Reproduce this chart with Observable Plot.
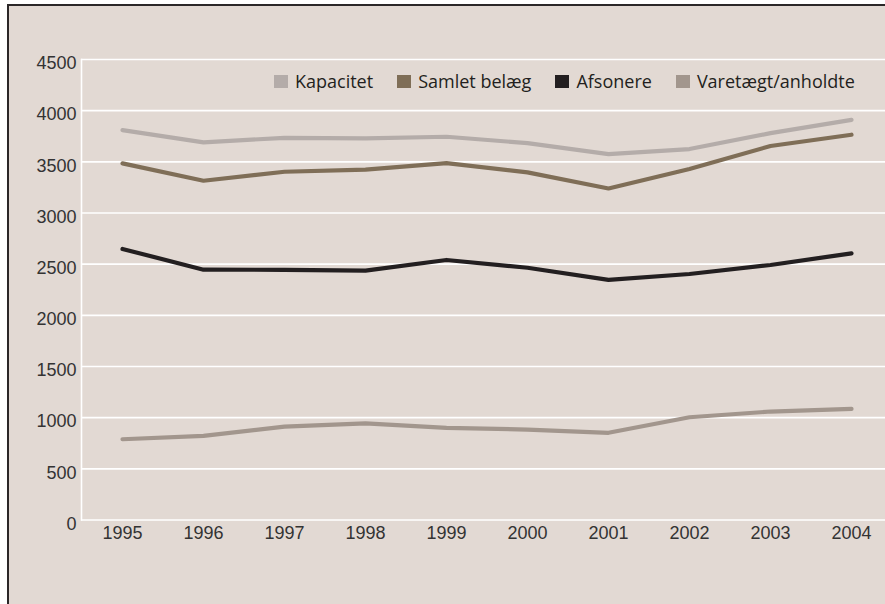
<!DOCTYPE html>
<html>
<head>
<meta charset="utf-8">
<script src="https://cdn.jsdelivr.net/npm/d3@7"></script>
<script src="https://cdn.jsdelivr.net/npm/@observablehq/plot@0.6"></script>
<style>
  html, body { margin: 0; padding: 0; background: #ffffff; }
  #wrap { position: relative; width: 885px; height: 604px; overflow: hidden; background: #ffffff; }
  #panel { position: absolute; left: 7px; top: 4px; right: -4px; bottom: -4px;
           background: #e2d9d3; border-left: 2px solid #2b2728; border-top: 2px solid #2b2728; }
  #chart { position: absolute; left: 0; top: 0; }
  #legend { position: absolute; left: 274px; top: 68px; display: flex; align-items: center;
            gap: 24px; font-family: "Open Sans", sans-serif; font-size: 18px; color: #231f20; height: 26px; }
  .item { display: flex; align-items: center; gap: 7px; white-space: nowrap; }
  .sw { width: 14px; height: 13px; display: inline-block; }
</style>
</head>
<body>
<div id="wrap">
  <div id="panel"></div>
  <div id="chart"></div>
  <div id="legend"></div>
</div>
<script>
const years = [1995, 1996, 1997, 1998, 1999, 2000, 2001, 2002, 2003, 2004];
const seriesNames = ["Kapacitet", "Samlet belæg", "Afsonere", "Varetægt/anholdte"];
const seriesColors = ["#b4aca9", "#7f6e57", "#231f20", "#a2968d"];
const kapacitet   = [3810, 3690, 3735, 3730, 3745, 3683, 3575, 3625, 3780, 3910];
const samletBelaeg = [3485, 3315, 3403, 3423, 3487, 3397, 3240, 3430, 3655, 3765];
const afsonere    = [2649, 2446, 2445, 2437, 2541, 2465, 2346, 2404, 2492, 2606];
const varetaegt   = [789, 822, 913, 945, 900, 884, 852, 1004, 1060, 1086];
const yTicks = [0, 500, 1000, 1500, 2000, 2500, 3000, 3500, 4000, 4500];

const seriesValues = [kapacitet, samletBelaeg, afsonere, varetaegt];
const data = [];
seriesNames.forEach((name, i) => {
  years.forEach((yr, j) => data.push({year: yr, value: seriesValues[i][j], series: name}));
});

const plot = Plot.plot({
  width: 885,
  height: 604,
  marginLeft: 81,
  marginRight: 0,
  marginTop: 59,
  marginBottom: 84.5,
  style: {background: "transparent", fontFamily: "'Liberation Sans', Arial, sans-serif", fontSize: "18px", color: "#333"},
  x: {type: "point", domain: years, padding: 0.45, align: 0.54, label: null},
  y: {domain: [0, 4500], ticks: yTicks, label: null},
  color: {domain: seriesNames, range: seriesColors},
  marks: [
    Plot.gridY(yTicks, {stroke: "#ffffff", strokeOpacity: 1, strokeWidth: 1.6}),
    Plot.frame({anchor: "left", stroke: "#ffffff", strokeWidth: 1.6}),
    Plot.axisY(yTicks, {tickSize: 0, tickPadding: 5, dy: 4, fill: "#333", label: null, fontSize: 18, tickFormat: d => String(d)}),
    Plot.axisX(years, {tickSize: 0, tickPadding: 6, fill: "#333", tickFormat: d => String(d), label: null, fontSize: 18}),
    Plot.line(data, {x: "year", y: "value", z: "series", stroke: "series", strokeWidth: 4.2, strokeLinecap: "round", strokeLinejoin: "round"})
  ]
});
document.getElementById("chart").appendChild(plot);

const legend = document.getElementById("legend");
seriesNames.forEach((name, i) => {
  const item = document.createElement("div");
  item.className = "item";
  const sw = document.createElement("span");
  sw.className = "sw";
  sw.style.background = seriesColors[i];
  const t = document.createElement("span");
  t.textContent = name;
  item.appendChild(sw);
  item.appendChild(t);
  legend.appendChild(item);
});
</script>
</body>
</html>
